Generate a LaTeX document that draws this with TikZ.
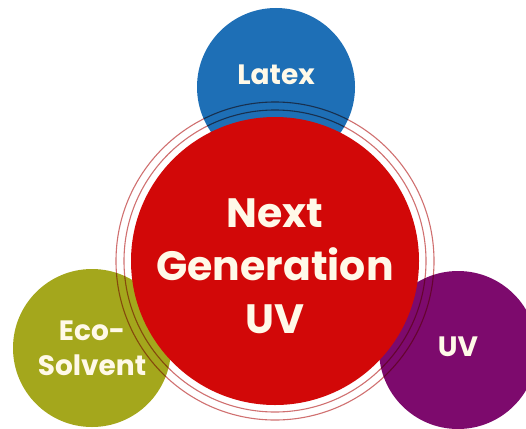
\documentclass[tikz,border=0pt]{standalone}
\usepackage{fontspec}
\setmainfont{Poppins}
\definecolor{latexblue}{HTML}{1E6FB6}
\definecolor{ecogreen}{HTML}{A4A71C}
\definecolor{uvpurple}{HTML}{7D0A6D}
\definecolor{nextred}{HTML}{D20808}
\definecolor{ringred}{HTML}{D07070}
\definecolor{labeltext}{HTML}{FFF9E8}

\begin{document}
\begin{tikzpicture}[x=1pt,y=-1pt,
  every node/.style={circle,inner sep=0pt,text=labeltext,align=center},
  smalltext/.style={font=\bfseries\fontsize{28}{35}\selectfont},
  bigtext/.style={font=\bfseries\fontsize{41}{53}\selectfont},
  small/.style={minimum size=158pt,smalltext},
  big/.style={minimum size=288pt},
  ring/.style={draw=ringred,line width=1.1pt,blend mode=multiply}]
  \useasboundingbox (0,0) rectangle (526,428);

  \node[small,fill=latexblue] (latex) at (276,87)
    [label={[smalltext,yshift=12pt]center:Latex}] {};
  \node[small,fill=ecogreen] (eco) at (92,348) {Eco-\\Solvent};
  \node[small,fill=uvpurple] (uv) at (458,350)
    [label={[smalltext,yshift=3pt]center:UV}] {};

  \node[big,fill=nextred] (next) at (275,261)
    [label={[bigtext,yshift=-5pt]center:{Next\\Generation\\UV}}] {};

  \draw[ring] (next.center) circle[radius=151];
  \draw[ring] (next.center) circle[radius=159];
\end{tikzpicture}
\end{document}
